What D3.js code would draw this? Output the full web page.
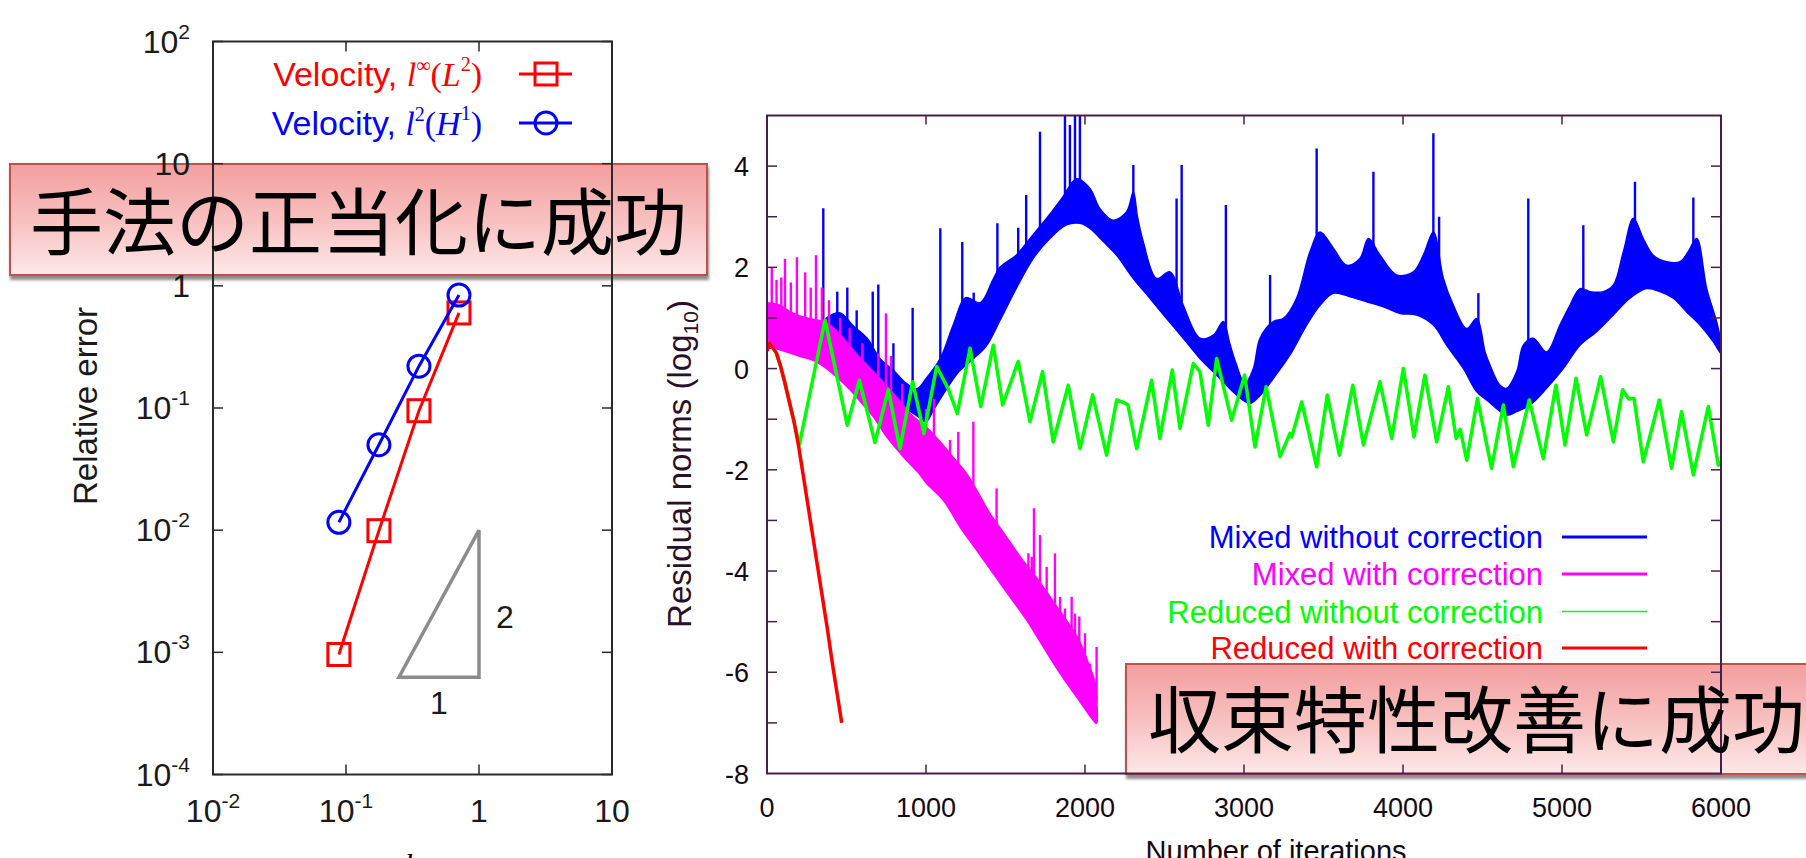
<!DOCTYPE html>
<html>
<head>
<meta charset="utf-8">
<script src="https://cdn.jsdelivr.net/npm/d3@7"></script>
<style>
  html, body { margin: 0; padding: 0; background: #fff; }
  svg { display: block; }
</style>
</head>
<body>
<svg id="chart" width="1806" height="858"></svg>
<script>
// ---------- left plot: error vs h ----------
const hValues = [0.0884, 0.1768, 0.3536, 0.7071];
const errVelL2 = [0.00096, 0.0099, 0.095, 0.60];
const errVelH1 = [0.0116, 0.050, 0.22, 0.84];
const slopeTriH = [0.25, 1, 1];
const slopeTriErr = [0.000625, 0.000625, 0.01];
const leftYTicks = [1e-4, 1e-3, 1e-2, 1e-1, 1, 10, 100];
const leftYLabels = [["10", "-4"], ["10", "-3"], ["10", "-2"], ["10", "-1"], ["1", ""], ["10", ""], ["10", "2"]];
const leftXTicks = [0.01, 0.1, 1, 10];
const leftXLabels = [["10", "-2"], ["10", "-1"], ["1", ""], ["10", ""]];

// ---------- right plot: residual history ----------
const iterTicks = [0, 1000, 2000, 3000, 4000, 5000, 6000];
const normTicks = [-8, -6, -4, -2, 0, 2, 4];
const normMinor = [-7, -6, -5, -4, -3, -2, -1, 0, 1, 2, 3, 4];

// Mixed without correction: dense band (lower / upper envelope) + spikes
const mixedNoCorrLow = [[0,0.4],[250,0.3],[400,0.0],[550,-0.3],[700,-0.55],[850,-0.75],[950,-0.95],[1000,-1.05],[1050,-0.8],[1130,-0.4],[1210,-0.05],[1300,0.2],[1380,0.45],[1465,0.95],[1570,1.6],[1675,2.18],[1779,2.57],[1884,2.84],[1968,2.87],[2031,2.77],[2115,2.51],[2199,2.24],[2304,1.78],[2408,1.39],[2513,0.99],[2618,0.6],[2723,0.2],[2828,-0.13],[2932,-0.46],[3006,-0.65],[3038,-0.69],[3101,-0.53],[3185,-0.19],[3289,0.27],[3394,0.86],[3478,1.25],[3562,1.49],[3667,1.42],[3772,1.32],[3876,1.22],[3981,1.09],[4086,1.06],[4191,0.86],[4275,0.46],[4380,0.0],[4464,-0.46],[4526,-0.62],[4589,-0.79],[4652,-0.92],[4715,-0.85],[4798,-0.72],[4903,-0.39],[5008,0.0],[5113,0.46],[5218,0.73],[5323,1.06],[5427,1.39],[5532,1.58],[5616,1.52],[5700,1.39],[5784,1.12],[5868,0.86],[5952,0.53],[6000,0.3]];
const mixedNoCorrHigh = [[0,0.6],[250,0.5],[375,1.0],[460,1.1],[540,0.85],[630,0.6],[710,0.2],[800,-0.05],[860,-0.25],[940,-0.4],[1000,-0.2],[1090,0.2],[1170,0.85],[1250,1.4],[1340,1.3],[1420,1.75],[1465,2.0],[1570,2.25],[1675,2.65],[1779,3.05],[1863,3.4],[1947,3.75],[2031,3.56],[2094,3.16],[2178,2.93],[2262,3.1],[2304,3.49],[2330,3.0],[2366,2.51],[2450,1.78],[2534,1.91],[2618,1.25],[2723,0.6],[2807,0.66],[2870,0.93],[2910,0.5],[2950,0.1],[3006,-0.3],[3059,0.0],[3101,0.6],[3185,0.93],[3248,0.99],[3331,1.39],[3415,2.31],[3478,2.7],[3562,2.38],[3646,2.04],[3730,2.18],[3782,2.57],[3856,2.24],[3960,1.85],[4065,1.91],[4128,2.24],[4191,2.7],[4254,1.78],[4317,1.25],[4401,0.79],[4464,0.99],[4516,0.33],[4547,0.07],[4610,-0.33],[4652,-0.39],[4715,-0.06],[4757,0.46],[4819,0.6],[4903,0.33],[4987,0.86],[5050,1.25],[5113,1.58],[5176,1.52],[5260,1.52],[5323,1.65],[5386,2.31],[5449,2.97],[5511,2.57],[5574,2.24],[5658,2.11],[5742,2.11],[5794,2.31],[5847,2.57],[5910,1.58],[5972,0.93],[6000,0.5]];
const mixedNoCorrSpikes = [[354,3.17],[442,1.52],[505,1.6],[564,1.15],[665,1.52],[700,1.66],[795,0.5],[916,1.2],[1090,2.77],[1228,2.5],[1300,1.5],[1449,2.87],[1580,2.78],[1630,3.43],[1717,4.68],[1874,5.0],[1905,4.81],[1937,5.0],[1968,5.0],[2304,4.02],[2576,3.36],[2608,4.02],[2886,3.23],[3164,1.85],[3457,4.35],[3814,3.89],[4191,4.65],[4227,3.0],[4474,1.49],[4788,3.36],[5134,2.83],[5459,3.69],[5826,3.38]];

// Mixed with correction: band + spikes
const mixedCorrLow = [[0,0.45],[100,0.35],[200,0.25],[300,0.15],[375,0.0],[450,-0.2],[522,-0.42],[600,-0.7],[680,-1.0],[753,-1.35],[857,-1.74],[950,-2.05],[1004,-2.27],[1109,-2.6],[1214,-3.13],[1319,-3.59],[1423,-4.05],[1528,-4.51],[1633,-4.97],[1738,-5.5],[1843,-6.02],[1948,-6.49],[2052,-6.95],[2073,-7.01]];
const mixedCorrHigh = [[0,1.3],[80,1.25],[160,1.1],[250,1.0],[330,0.95],[400,0.85],[480,0.6],[560,0.3],[650,0.0],[740,-0.3],[830,-0.62],[920,-0.95],[1000,-1.15],[1090,-1.45],[1170,-1.75],[1250,-2.05],[1319,-2.4],[1400,-2.85],[1500,-3.3],[1600,-3.75],[1700,-4.15],[1800,-4.6],[1900,-5.05],[1960,-5.35],[2031,-5.9],[2063,-6.2],[2073,-6.5]];
const mixedCorrSpikes = [[30,2.0],[60,1.75],[90,1.8],[113,2.17],[150,1.7],[188,2.2],[240,1.9],[275,1.6],[308,2.24],[345,1.6],[390,1.35],[460,1.0],[520,0.8],[600,0.5],[700,0.3],[748,1.09],[780,0.25],[850,-0.3],[1000,-0.8],[1050,-0.6],[1098,-1.48],[1119,-1.64],[1151,-1.41],[1172,-1.87],[1203,-1.25],[1224,-2.2],[1266,-2.4],[1298,-1.05],[1329,-3.06],[1361,-2.83],[1382,-2.83],[1403,-2.93],[1444,-2.37],[1486,-3.32],[1528,-3.65],[1560,-3.92],[1581,-3.88],[1612,-4.18],[1644,-3.65],[1665,-3.72],[1679,-2.76],[1717,-3.29],[1759,-3.92],[1790,-4.77],[1811,-3.65],[1843,-4.51],[1874,-4.74],[1916,-4.51],[1937,-4.84],[1964,-4.9],[2000,-5.23],[2031,-5.83],[2073,-5.5]];

// Reduced without correction (first part runs under the corrected curve)
const reducedNoCorr = [[0,0.35],[15,0.5],[35,0.42],[60,0.3],[85,0.05],[110,-0.25],[140,-0.65],[170,-1.05],[203,-1.51],[365,0.96],[505,-1.12],[581,-0.23],[679,-1.46],[763,-0.42],[836,-1.58],[916,-0.26],[987,-1.28],[1067,0.04],[1140,-0.4],[1197,-0.89],[1277,0.4],[1344,-0.75],[1423,0.46],[1482,-0.72],[1580,0.14],[1654,-1.05],[1733,-0.06],[1800,-1.45],[1895,-0.33],[1968,-1.58],[2048,-0.52],[2136,-1.71],[2199,-0.62],[2250,-0.68],[2270,-0.72],[2325,-1.58],[2419,-0.23],[2471,-1.38],[2549,-0.03],[2597,-1.18],[2681,0.10],[2723,-0.06],[2775,-1.12],[2828,0.20],[2922,-1.02],[3004,-0.13],[3069,-1.55],[3139,-0.36],[3227,-1.74],[3289,-1.28],[3300,-1.35],[3363,-0.66],[3457,-1.94],[3524,-0.52],[3600,-1.71],[3684,-0.33],[3751,-1.51],[3855,-0.26],[3929,-1.38],[4002,0.0],[4069,-1.35],[4138,-0.13],[4212,-1.45],[4285,-0.36],[4334,-1.38],[4360,-1.2],[4401,-1.81],[4468,-0.59],[4557,-1.97],[4631,-0.72],[4694,-1.94],[4794,-0.62],[4882,-1.78],[4962,-0.33],[5019,-1.51],[5088,-0.19],[5155,-1.31],[5243,-0.16],[5323,-1.45],[5381,-0.42],[5420,-0.6],[5453,-0.59],[5511,-1.84],[5612,-0.62],[5689,-1.97],[5752,-0.85],[5826,-2.10],[5920,-0.75],[5983,-1.91],[6000,-1.84]];

// Reduced with correction
const reducedCorr = [[0,0.35],[15,0.5],[35,0.42],[60,0.3],[85,0.05],[110,-0.25],[140,-0.65],[170,-1.05],[197,-1.5],[230,-2.15],[260,-2.75],[290,-3.35],[320,-3.95],[350,-4.55],[380,-5.15],[410,-5.8],[440,-6.4],[470,-7.0]];

const seriesNames = ["Mixed without correction", "Mixed with correction", "Reduced without correction", "Reduced with correction"];
const seriesColors = ["#0000ff", "#ff00ff", "#00ff00", "#ff0000"];

const notes = ["手法の正当化に成功", "収束特性改善に成功"];

const svg = d3.select("#chart");
const defs = svg.append("defs");

const grad = defs.append("linearGradient").attr("id", "noteFill")
    .attr("x1", 0).attr("y1", 0).attr("x2", 0).attr("y2", 1);
grad.append("stop").attr("offset", "0%").attr("stop-color", "#f49e9e");
grad.append("stop").attr("offset", "55%").attr("stop-color", "#f8c3c3");
grad.append("stop").attr("offset", "100%").attr("stop-color", "#fde9e9");

const shadow = defs.append("filter").attr("id", "noteShadow")
    .attr("x", "-5%").attr("y", "-10%").attr("width", "115%").attr("height", "130%");
shadow.append("feDropShadow").attr("dx", 1).attr("dy", 4).attr("stdDeviation", 1.5)
    .attr("flood-color", "#777").attr("flood-opacity", 0.85);

// note boxes go underneath the plots, the text goes on top
const noteBoxes = [
    { x: 10, y: 164, w: 697, h: 111, tx: 30, ty: 249 },
    { x: 1126, y: 664, w: 700, h: 110, tx: 1148, ty: 747 }
];
noteBoxes.forEach(b => {
    svg.append("rect")
        .attr("x", b.x).attr("y", b.y).attr("width", b.w).attr("height", b.h)
        .attr("fill", "url(#noteFill)")
        .attr("stroke", "#c0504d").attr("stroke-width", 2)
        .attr("filter", "url(#noteShadow)");
});

// ================= left plot =================
const xL = d3.scaleLog().domain([0.01, 10]).range([213, 612]);
const yL = d3.scaleLog().domain([1e-4, 100]).range([774.5, 41.5]);
const left = svg.append("g").attr("font-family", "'Liberation Sans', Arial, sans-serif");

left.append("rect")
    .attr("x", xL(0.01)).attr("y", yL(100))
    .attr("width", xL(10) - xL(0.01)).attr("height", yL(1e-4) - yL(100))
    .attr("fill", "none").attr("stroke", "#2a2a2a").attr("stroke-width", 2);

leftYTicks.forEach((t, i) => {
    left.append("line").attr("x1", xL(0.01)).attr("x2", xL(0.01) + 10)
        .attr("y1", yL(t)).attr("y2", yL(t)).attr("stroke", "#2a2a2a").attr("stroke-width", 1.5);
    left.append("line").attr("x1", xL(10)).attr("x2", xL(10) - 10)
        .attr("y1", yL(t)).attr("y2", yL(t)).attr("stroke", "#2a2a2a").attr("stroke-width", 1.5);
    const lab = left.append("text").attr("x", 190).attr("y", yL(t) + 11)
        .attr("text-anchor", "end").attr("font-size", 32).attr("fill", "#1a1a1a");
    lab.append("tspan").text(leftYLabels[i][0]);
    if (leftYLabels[i][1]) lab.append("tspan").attr("font-size", 21).attr("dy", -14).text(leftYLabels[i][1]);
});

leftXTicks.forEach((t, i) => {
    left.append("line").attr("x1", xL(t)).attr("x2", xL(t))
        .attr("y1", yL(1e-4)).attr("y2", yL(1e-4) - 10).attr("stroke", "#2a2a2a").attr("stroke-width", 1.5);
    left.append("line").attr("x1", xL(t)).attr("x2", xL(t))
        .attr("y1", yL(100)).attr("y2", yL(100) + 10).attr("stroke", "#2a2a2a").attr("stroke-width", 1.5);
    const lab = left.append("text").attr("x", xL(t)).attr("y", 822)
        .attr("text-anchor", "middle").attr("font-size", 32).attr("fill", "#1a1a1a");
    lab.append("tspan").text(leftXLabels[i][0]);
    if (leftXLabels[i][1]) lab.append("tspan").attr("font-size", 21).attr("dy", -14).text(leftXLabels[i][1]);
});

left.append("text")
    .attr("transform", "translate(97,406) rotate(-90)")
    .attr("text-anchor", "middle").attr("font-size", 33).attr("fill", "#1a1a1a")
    .text("Relative error");
left.append("text")
    .attr("x", (xL(0.01) + xL(10)) / 2).attr("y", 876)
    .attr("text-anchor", "middle").attr("font-size", 32)
    .attr("font-family", "'Liberation Serif', serif").attr("font-style", "italic")
    .text("h");

// slope triangle
const tri = slopeTriH.map((h, i) => [h, slopeTriErr[i]]);
left.append("path")
    .attr("d", d3.line().x(d => xL(d[0])).y(d => yL(d[1]))(tri) + "Z")
    .attr("fill", "none").attr("stroke", "#8c8c8c").attr("stroke-width", 3.5);
left.append("text")
    .attr("x", xL(Math.sqrt(slopeTriH[0] * slopeTriH[1]))).attr("y", yL(slopeTriErr[0]) + 37)
    .attr("text-anchor", "middle").attr("font-size", 32).attr("fill", "#1a1a1a").text("1");
left.append("text")
    .attr("x", xL(slopeTriH[2]) + 17).attr("y", yL(Math.sqrt(slopeTriErr[1] * slopeTriErr[2])) + 24)
    .attr("font-size", 32).attr("fill", "#1a1a1a").text("2");

const lineL = d3.line().x(d => xL(d[0])).y(d => yL(d[1]));
const l2Pts = hValues.map((h, i) => [h, errVelL2[i]]);
const h1Pts = hValues.map((h, i) => [h, errVelH1[i]]);

left.append("path").attr("d", lineL(l2Pts)).attr("fill", "none")
    .attr("stroke", "#ff0000").attr("stroke-width", 3);
left.selectAll(".sq").data(l2Pts).join("rect")
    .attr("x", d => xL(d[0]) - 11).attr("y", d => yL(d[1]) - 11)
    .attr("width", 22).attr("height", 22)
    .attr("fill", "none").attr("stroke", "#ff0000").attr("stroke-width", 3);

left.append("path").attr("d", lineL(h1Pts)).attr("fill", "none")
    .attr("stroke", "#0000ff").attr("stroke-width", 3);
left.selectAll(".ci").data(h1Pts).join("circle")
    .attr("cx", d => xL(d[0])).attr("cy", d => yL(d[1])).attr("r", 11)
    .attr("fill", "none").attr("stroke", "#0000ff").attr("stroke-width", 3);

// left legend
function legendLabel(y, color, sup1, letter, sup2) {
    const t = left.append("text").attr("x", 482).attr("y", y + 12)
        .attr("text-anchor", "end").attr("font-size", 34).attr("fill", color);
    t.append("tspan").text("Velocity, ");
    t.append("tspan").attr("font-family", "'Liberation Serif', serif").attr("font-style", "italic").text("l");
    t.append("tspan").attr("font-size", 20).attr("dy", -14)
        .attr("font-family", "'Liberation Serif', serif").text(sup1);
    t.append("tspan").attr("dy", 14).attr("font-family", "'Liberation Serif', serif").text("(");
    t.append("tspan").attr("font-family", "'Liberation Serif', serif").attr("font-style", "italic").text(letter);
    t.append("tspan").attr("font-size", 20).attr("dy", -15)
        .attr("font-family", "'Liberation Serif', serif").text(sup2);
    t.append("tspan").attr("dy", 15).attr("font-family", "'Liberation Serif', serif").text(")");
    left.append("line").attr("x1", 519).attr("x2", 572).attr("y1", y).attr("y2", y)
        .attr("stroke", color).attr("stroke-width", 3);
}
legendLabel(74, "#ff0000", "∞", "L", "2");
left.append("rect").attr("x", 546 - 11).attr("y", 74 - 11).attr("width", 22).attr("height", 22)
    .attr("fill", "none").attr("stroke", "#ff0000").attr("stroke-width", 3);
legendLabel(123, "#0000ff", "2", "H", "1");
left.append("circle").attr("cx", 546).attr("cy", 123).attr("r", 11)
    .attr("fill", "none").attr("stroke", "#0000ff").attr("stroke-width", 3);

// ================= right plot =================
const xR = d3.scaleLinear().domain([0, 6000]).range([767, 1721]);
const yR = d3.scaleLinear().domain([-8, 5]).range([773.5, 115.5]);
const right = svg.append("g").attr("font-family", "'Liberation Sans', Arial, sans-serif");

defs.append("clipPath").attr("id", "plotClip").append("rect")
    .attr("x", xR(0)).attr("y", yR(5)).attr("width", xR(6000) - xR(0)).attr("height", yR(-8) - yR(5));
const plot = right.append("g").attr("clip-path", "url(#plotClip)");

const lineR = d3.line().x(d => xR(d[0])).y(d => yR(d[1]));
const bandLine = d3.line().x(d => xR(d[0])).y(d => yR(d[1])).curve(d3.curveCatmullRom.alpha(0.5));
function envAt(env, it) {
    const i = d3.bisector(d => d[0]).left(env, it);
    if (i <= 0) return env[0][1];
    if (i >= env.length) return env[env.length - 1][1];
    const a = env[i - 1], b = env[i];
    return a[1] + (it - a[0]) / (b[0] - a[0]) * (b[1] - a[1]);
}
function drawBand(low, high, spikes, color) {
    const poly = high.concat(low.slice().reverse());
    plot.append("path").attr("d", bandLine(poly) + "Z")
        .attr("fill", color).attr("stroke", color).attr("stroke-width", 1.5)
        .attr("stroke-linejoin", "round");
    spikes.forEach(s => {
        plot.append("line")
            .attr("x1", xR(s[0])).attr("x2", xR(s[0]))
            .attr("y1", yR(envAt(high, s[0]) - 0.1)).attr("y2", yR(s[1]))
            .attr("stroke", color).attr("stroke-width", 2.4);
    });
}
drawBand(mixedNoCorrLow, mixedNoCorrHigh, mixedNoCorrSpikes, seriesColors[0]);
drawBand(mixedCorrLow, mixedCorrHigh, mixedCorrSpikes, seriesColors[1]);
plot.append("path").attr("d", lineR(reducedNoCorr)).attr("fill", "none")
    .attr("stroke", seriesColors[2]).attr("stroke-width", 3.5).attr("stroke-linejoin", "round");
plot.append("path").attr("d", lineR(reducedCorr)).attr("fill", "none")
    .attr("stroke", seriesColors[3]).attr("stroke-width", 3.5).attr("stroke-linejoin", "round");

const frameColor = "#4a1f47";
right.append("rect")
    .attr("x", xR(0)).attr("y", yR(5)).attr("width", xR(6000) - xR(0)).attr("height", yR(-8) - yR(5))
    .attr("fill", "none").attr("stroke", frameColor).attr("stroke-width", 2);
normMinor.forEach(t => {
    right.append("line").attr("x1", xR(0)).attr("x2", xR(0) + 10).attr("y1", yR(t)).attr("y2", yR(t))
        .attr("stroke", frameColor).attr("stroke-width", 1.5);
    right.append("line").attr("x1", xR(6000)).attr("x2", xR(6000) - 10).attr("y1", yR(t)).attr("y2", yR(t))
        .attr("stroke", frameColor).attr("stroke-width", 1.5);
});
iterTicks.forEach(t => {
    right.append("line").attr("x1", xR(t)).attr("x2", xR(t)).attr("y1", yR(-8)).attr("y2", yR(-8) - 9)
        .attr("stroke", frameColor).attr("stroke-width", 1.5);
    right.append("line").attr("x1", xR(t)).attr("x2", xR(t)).attr("y1", yR(5)).attr("y2", yR(5) + 9)
        .attr("stroke", frameColor).attr("stroke-width", 1.5);
    right.append("text").attr("x", xR(t)).attr("y", 817).attr("text-anchor", "middle")
        .attr("font-size", 27).attr("fill", "#140814").text(t);
});
normTicks.forEach(t => {
    right.append("text").attr("x", 749).attr("y", yR(t) + 10).attr("text-anchor", "end")
        .attr("font-size", 27).attr("fill", "#140814").text(t);
});

const yTitle = right.append("text")
    .attr("transform", "translate(691,464) rotate(-90)")
    .attr("text-anchor", "middle").attr("font-size", 33).attr("fill", "#2a0f2a");
yTitle.append("tspan").text("Residual norms (log");
yTitle.append("tspan").attr("font-size", 21).attr("dy", 7).text("10");
yTitle.append("tspan").attr("dy", -7).text(")");
right.append("text").attr("x", 1276).attr("y", 861).attr("text-anchor", "middle")
    .attr("font-size", 29).attr("fill", "#140814").text("Number of iterations");

const legendY = [537, 574, 611.5, 648];
const legendW = [3, 3, 1.5, 3];
seriesNames.forEach((name, i) => {
    right.append("text").attr("x", 1543).attr("y", legendY[i] + 11).attr("text-anchor", "end")
        .attr("font-size", 31).attr("fill", seriesColors[i]).text(name);
    right.append("line").attr("x1", 1562).attr("x2", 1647).attr("y1", legendY[i]).attr("y2", legendY[i])
        .attr("stroke", seriesColors[i]).attr("stroke-width", legendW[i]);
});

// ================= note texts on top =================
noteBoxes.forEach((b, i) => {
    svg.append("text").attr("x", b.tx).attr("y", b.ty)
        .attr("font-family", "'Noto Sans CJK JP', 'Noto Sans CJK SC', sans-serif")
        .attr("font-size", 73).attr("fill", "#000").text(notes[i]);
});
</script>
</body>
</html>
